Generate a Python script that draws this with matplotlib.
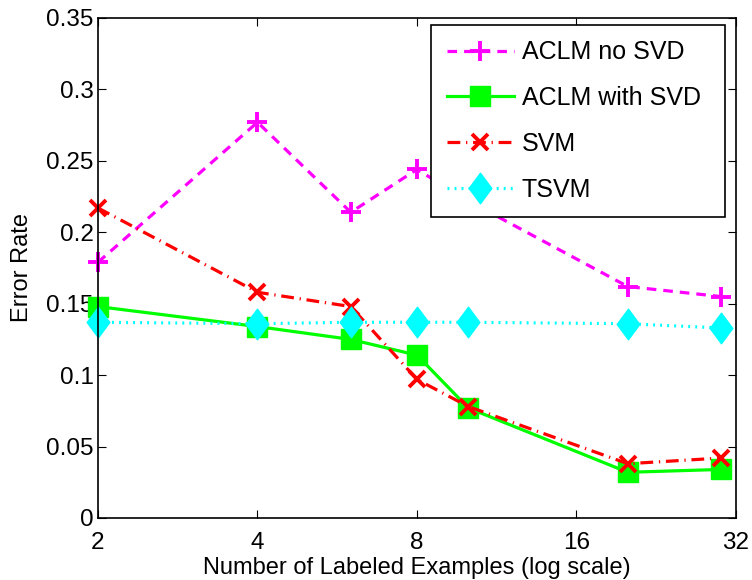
import matplotlib.pyplot as plt
from matplotlib.path import Path
from matplotlib.ticker import FixedLocator, FixedFormatter, NullLocator

plt.rcParams['font.family'] = ['Liberation Sans', 'DejaVu Sans']

# labeled examples per class
numLabeled = [2, 4, 6, 8, 10, 20, 30]

aclmNoSvd = [0.179, 0.277, 0.214, 0.244, 0.222, 0.162, 0.155]
aclmWithSvd = [0.148, 0.134, 0.125, 0.114, 0.077, 0.032, 0.034]
svm = [0.217, 0.158, 0.148, 0.097, 0.078, 0.038, 0.042]
tsvm = [0.137, 0.136, 0.137, 0.137, 0.137, 0.136, 0.133]

xTicks = [2, 4, 8, 16, 32]
yTicks = [0, 0.05, 0.1, 0.15, 0.2, 0.25, 0.3, 0.35]

# taller-than-wide diamond, like the matlab one
diamond = Path([(0, 1), (0.74, 0), (0, -1), (-0.74, 0), (0, 1)],
               [Path.MOVETO, Path.LINETO, Path.LINETO, Path.LINETO, Path.CLOSEPOLY])

fig = plt.figure(figsize=(7.52, 5.8), dpi=100)
ax = fig.add_axes([0.1303, 0.1069, 0.8484, 0.8621])

common = dict(linewidth=2.3, clip_on=False)
ax.plot(numLabeled, aclmNoSvd, color=(1, 0, 1), linestyle=(0, (3, 2.2)),
        marker='+', markersize=15, markeredgewidth=2.8, label='ACLM no SVD', **common)
ax.plot(numLabeled, aclmWithSvd, color=(0, 1, 0), linestyle='-',
        marker='s', markersize=14, label='ACLM with SVD', **common)
ax.plot(numLabeled, svm, color=(1, 0, 0), linestyle=(0, (4, 1.8, 0.4, 1.8)),
        marker='x', markersize=12, markeredgewidth=2.8, label='SVM', **common)
ax.plot(numLabeled, tsvm, color=(0, 1, 1), linestyle=(0, (0.6, 1.6)),
        marker=diamond, markersize=22, label='TSVM', **common)

ax.set_xscale('log', base=2)
ax.set_xlim(2, 32)
ax.set_ylim(0, 0.35)
ax.xaxis.set_major_locator(FixedLocator(xTicks))
ax.xaxis.set_major_formatter(FixedFormatter([str(t) for t in xTicks]))
ax.xaxis.set_minor_locator(NullLocator())
ax.set_yticks(yTicks)
ax.set_yticklabels(['0', '0.05', '0.1', '0.15', '0.2', '0.25', '0.3', '0.35'])

ax.tick_params(direction='in', top=True, right=True, length=6, width=0.8,
               labelsize=17.5)
ax.tick_params(axis='x', pad=10)
ax.tick_params(axis='y', pad=3)
for s in ax.spines.values():
    s.set_linewidth(1.2)

ax.set_xlabel('Number of Labeled Examples (log scale)', fontsize=17, labelpad=2.5)
ax.set_ylabel('Error Rate', fontsize=17, va='center')
ax.yaxis.set_label_coords(-0.119, 0.5)

leg = ax.legend(loc='upper left', bbox_to_anchor=(0.522, 0.5, 0.461, 0.486),
                mode='expand', borderaxespad=0, fontsize=18, handlelength=2.68,
                numpoints=1, fancybox=False, framealpha=1, edgecolor='black',
                labelspacing=0.87, handletextpad=0.32, borderpad=0.62)
leg.get_frame().set_linewidth(1.2)

fig.savefig('out.png', dpi=100)
